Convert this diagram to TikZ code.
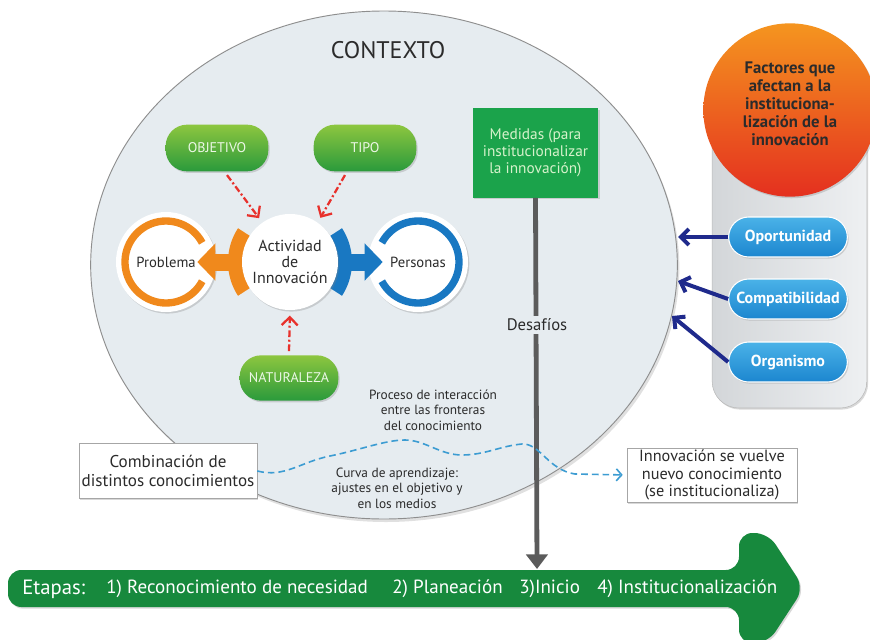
\documentclass[tikz,border=0pt]{standalone}
\usepackage{fontspec}
\setmainfont{PT Sans}
\usetikzlibrary{shadows,arrows.meta,calc}
\definecolor{ctx}{HTML}{E6ECF0}
\definecolor{ctxline}{HTML}{8E8E8E}
\definecolor{gtop}{HTML}{8DC63F}
\definecolor{gbot}{HTML}{2A9A3C}
\definecolor{gtext}{HTML}{ECF7E6}
\definecolor{medgreen}{HTML}{1BA34B}
\definecolor{medtext}{HTML}{D6F2CB}
\definecolor{orng}{HTML}{F0891C}
\definecolor{blu}{HTML}{1978C2}
\definecolor{redd}{HTML}{E8312C}
\definecolor{navy}{HTML}{1F2A8C}
\definecolor{dgray}{HTML}{5B5B5B}
\definecolor{txt}{HTML}{2B2B2B}
\definecolor{dashc}{HTML}{3C9CD2}
\definecolor{arrg}{HTML}{17893D}
\definecolor{ptop}{HTML}{4AB2E8}
\definecolor{pbot}{HTML}{1C86CF}
\definecolor{ctop}{HTML}{F5951F}
\definecolor{cbot}{HTML}{E4301F}
\definecolor{panel}{HTML}{D3D6D9}
\definecolor{panelin}{HTML}{EEF0F2}
\begin{document}
\begin{tikzpicture}[x=0.75pt,y=-0.75pt,
  shadowed/.style={drop shadow={opacity=0.3,shadow xshift=1pt,shadow yshift=-1.2pt}},
  greenpill/.style={rounded corners=16pt, top color=gtop, bottom color=gbot, text=gtext,
    minimum height=35pt, font=\fontsize{10.5}{12}\selectfont, shadowed, inner sep=0pt},
  bluepill/.style={rounded corners=15pt, top color=ptop, bottom color=pbot, text=white,
    minimum width=89pt, minimum height=30pt, font=\bfseries\fontsize{12}{13}\selectfont,
    shadowed, draw=white, line width=0.8pt, inner sep=0pt},
  redarrow/.style={draw=redd, line width=1.7pt, dash pattern=on 5pt off 2pt on 1.5pt off 2pt,
    -{Straight Barb[length=6pt,width=12pt,line width=1.7pt]}, shorten >=4pt},
  navyarrow/.style={draw=navy, line width=3pt, -{Straight Barb[length=6pt,width=12pt]}},
  labelbox/.style={draw=gray!70, fill=white, shadowed, align=center, text=txt, inner sep=0pt},
  txtstyle/.style={align=center, text=txt},
]
\useasboundingbox (0,0) rectangle (870,639);
\fill[white] (0,0) rectangle (870,639);

% right panel
\node[shadowed, draw=gray!55, rounded corners=20pt, left color=panel, right color=panelin,
  minimum width=116pt, minimum height=216pt, inner sep=0pt] (panel) at (789.5,264) {};
\node[circle, top color=ctop, bottom color=cbot, minimum size=130pt, inner sep=0pt, shadowed] (fact) at (790,110) {};
\node[txtstyle, font=\bfseries\fontsize{12.5}{13.6}\selectfont] (facttxt) at (790,104)
  {Factores que\\afectan a la\\instituciona-\\lización de la\\innovación};
\node[bluepill] (opo) at (788,237) {Oportunidad};
\node[bluepill] (com) at (788,299) {Compatibilidad};
\node[bluepill] (org) at (788,362) {Organismo};

% context ellipse
\fill[black, opacity=0.12] (386,268) ellipse[x radius=220pt, y radius=190.5pt];
\draw[ctxline, fill=ctx, line width=0.7pt] (384,265) ellipse[x radius=220pt, y radius=190.5pt];
\node[txtstyle, font=\fontsize{18}{20}\selectfont] (ctxt) at (388,50) {CONTEXTO};

% navy arrows
\coordinate (t1) at (678,237);
\coordinate (t2) at (678,281);
\coordinate (t3) at (672,316);
\draw[navyarrow] (opo.west) -- (t1);
\draw[navyarrow] (com.west) -- (t2);
\draw[navyarrow] (org.west) -- (t3);

% bottom arrow
\fill[arrg, rounded corners=10pt, shadowed] (300,570) -- (739,570) -- (739,533) -- (768,533)
  -- (804,588) -- (768,643) -- (739,643) -- (739,607) -- (8,607) -- (8,570) -- cycle;
\coordinate (gtop) at (537,569);
\begin{scope}[text=white, font=\fontsize{14.3}{15}\selectfont]
\node[anchor=west, inner sep=0pt, font=\fontsize{15.5}{16}\selectfont] (e0) at (22,589) {Etapas:};
\node[anchor=west, inner sep=0pt] (e1) at (106,589) {1) Reconocimiento de necesidad};
\node[anchor=west, inner sep=0pt] (e2) at (392,589) {2) Planeación};
\node[anchor=west, inner sep=0pt] (e3) at (519,589) {3)Inicio};
\node[anchor=west, inner sep=0pt] (e4) at (597,589) {4) Institucionalización};
\end{scope}

% Medidas box and line
\node[fill=medgreen, text=medtext, minimum width=94pt, minimum height=67pt, align=center,
  font=\fontsize{11.5}{12.6}\selectfont, shadowed, inner sep=0pt] (med) at (535.5,153)
  {Medidas (para\\institucionalizar\\la innovación)};
\draw[dgray, line width=3.6pt, -{Triangle[length=11pt,width=16pt]}] (med.south) -- (gtop);
\node[fill=ctx, inner sep=2pt, txtstyle, font=\fontsize{12.5}{14}\selectfont] (des) at (537,325) {Desafíos};

% Problema / Personas
\node[circle, fill=white, minimum size=75pt, shadowed, txtstyle, font=\fontsize{11}{12}\selectfont] (prob) at (166,262) {Problema};
\draw[orng, line width=5.5pt] plot[domain=28:332, samples=60] ({166+41*cos(\x)},{262+41*sin(\x)});
\node[circle, fill=white, minimum size=75pt, shadowed, txtstyle, font=\fontsize{11}{12}\selectfont] (pers) at (418,262) {Personas};
\draw[blu, line width=5.5pt] plot[domain=-152:152, samples=60] ({418+41*cos(\x)},{262+41*sin(\x)});

% brackets
\coordinate (ac) at (290,262);
\begin{scope}
\clip (ac) -- ($(ac)+(147:80)$) -- ($(ac)+(213:80)$) -- cycle;
\fill[orng, even odd rule] (ac) circle[radius=46.5pt] (ac) circle[radius=35pt];
\end{scope}
\begin{scope}
\clip (ac) -- ($(ac)+(-33:80)$) -- ($(ac)+(33:80)$) -- cycle;
\fill[blu, even odd rule] (ac) circle[radius=46.5pt] (ac) circle[radius=35pt];
\end{scope}

\node[circle, fill=white, minimum size=72pt, shadowed, txtstyle, inner sep=0pt,
  font=\fontsize{12}{12}\selectfont] (act) at (ac) {Actividad\\de\\Innovación};
\draw[orng, line width=12.75pt, -{Triangle[length=13.5pt,width=27pt]}] ([xshift=-2pt]act.west) -- ([xshift=-14.25pt]prob.east);
\draw[blu, line width=12.75pt, -{Triangle[length=13.5pt,width=27pt]}] ([xshift=2pt]act.east) -- ([xshift=11.25pt]pers.west);

% green pills
\node[greenpill, minimum width=77pt] (obj) at (217,148) {OBJETIVO};
\node[greenpill, minimum width=77pt] (tipo) at (365,148) {TIPO};
\node[greenpill, minimum width=74pt, minimum height=34pt] (nat) at (289,378) {NATURALEZA};

\draw[redarrow] ([xshift=7.5pt,yshift=-2.6pt]obj.south) -- (act.125);
\draw[redarrow] ([xshift=-15pt,yshift=-2.6pt]tipo.south) -- (act.55);
\draw[redarrow] ([yshift=3pt]nat.north) -- (act.south);

% labels
\node[txtstyle, font=\fontsize{10}{11.5}\selectfont] (proc) at (433,410)
  {Proceso de interacción\\entre las fronteras\\del conocimiento};
\node[txtstyle, font=\fontsize{10}{11.5}\selectfont] (curva) at (397,488)
  {Curva de aprendizaje:\\ajustes en el objetivo y\\en los medios};
\node[labelbox, minimum width=133.5pt, minimum height=41pt, font=\fontsize{12.8}{14}\selectfont] (comb) at (168,471)
  {Combinación de\\distintos conocimientos};
\node[labelbox, minimum width=127.5pt, minimum height=40.5pt, font=\fontsize{12.2}{13}\selectfont] (innov) at (712,475)
  {Innovación se vuelve\\nuevo conocimiento\\(se institucionaliza)};

\draw[dashc, line width=1.2pt, dash pattern=on 5pt off 3pt, -{Straight Barb[length=4pt,width=9pt]}, shorten >=3pt]
  (comb.east) .. controls (285,478) and (300,462) .. (330,456)
  .. controls (360,450) and (385,440) .. (405,440)
  .. controls (425,440) and (440,455) .. (462,455)
  .. controls (485,455) and (500,446) .. (522,444)
  .. controls (540,443) and (548,470) .. (575,474) -- (innov.west);
\end{tikzpicture}
\end{document}
